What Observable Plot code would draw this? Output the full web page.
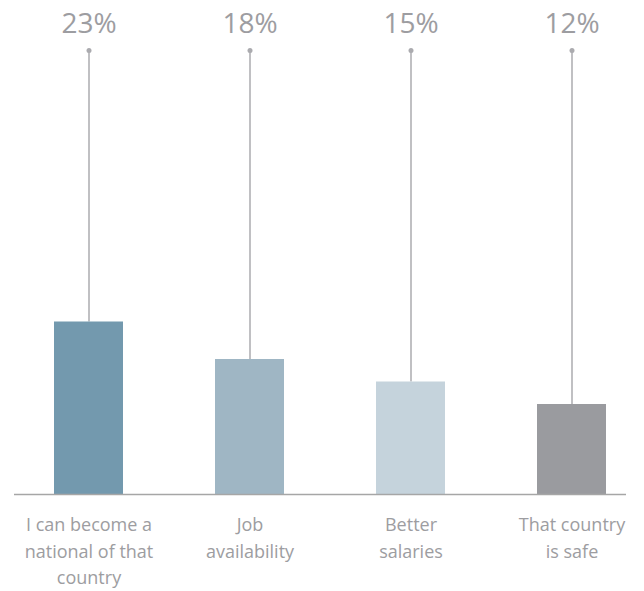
<!DOCTYPE html>
<html>
<head>
<meta charset="utf-8">
<script src="https://cdn.jsdelivr.net/npm/d3@7"></script>
<script src="https://cdn.jsdelivr.net/npm/@observablehq/plot@0.6"></script>
<style>
  html, body { margin: 0; padding: 0; background: #ffffff; }
  #chart svg { display: block; }
</style>
</head>
<body>
<div id="chart"></div>
<script>
const categories = [
  "I can become a\nnational of that\ncountry",
  "Job\navailability",
  "Better\nsalaries",
  "That country\nis safe"
];
const values = [23, 18, 15, 12];
const valueLabels = ["23%", "18%", "15%", "12%"];
const colors = ["#7399ae", "#9fb6c4", "#c5d3dc", "#9a9b9f"];

const data = categories.map((c, i) => ({ category: c, value: values[i], label: valueLabels[i], color: colors[i] }));
const yMax = 59.2;
const textColor = "#9d9da1";
const lineColor = "#ababaf";

const chart = Plot.plot({
  width: 644,
  height: 591,
  marginTop: 50,
  marginBottom: 97,
  marginLeft: 17,
  marginRight: 0,
  style: { fontFamily: "'Open Sans', sans-serif", background: "#ffffff" },
  x: { domain: categories, paddingInner: 0.571, paddingOuter: 0.23, axis: null },
  y: { domain: [0, yMax], axis: null },
  marks: [
    Plot.ruleX(data, { x: "category", y1: "value", y2: () => yMax, stroke: lineColor, strokeWidth: 1.5 }),
    Plot.dot(data, { x: "category", y: () => yMax, r: 2.5, fill: lineColor, stroke: "none" }),
    Plot.barY(data, { x: "category", y: "value", fill: "color" }),
    Plot.ruleY([0], { stroke: "#a6a6a6", strokeWidth: 1.5, insetLeft: -3, insetRight: 18 }),
    Plot.text(data, { x: "category", text: "label", frameAnchor: "top", lineAnchor: "middle", dy: -26, fontSize: 28, fill: textColor }),
    Plot.text(data, { x: "category", text: "category", frameAnchor: "bottom", lineAnchor: "top", dy: 18, fontSize: 18, lineHeight: 1.47, fill: textColor })
  ]
});
document.getElementById("chart").appendChild(chart);
</script>
</body>
</html>
